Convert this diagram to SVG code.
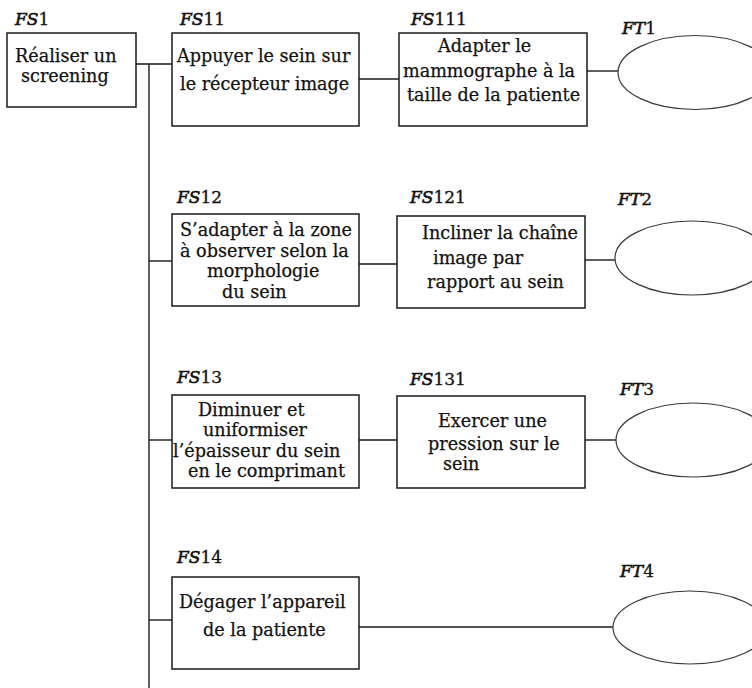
<svg xmlns="http://www.w3.org/2000/svg" width="752" height="688" viewBox="0 0 752 688">
<style>
.box{fill:#fff;stroke:#1a1a1a;stroke-width:1.5}
.ell{fill:#fff;stroke:#3a3a3a;stroke-width:1.2}
.con{stroke:#1a1a1a;stroke-width:1.4;fill:none}
.t{font-family:"DejaVu Serif","Liberation Serif",serif;font-size:17.6px;fill:#111;stroke:#111;stroke-width:0.25}
.lbl{font-family:"DejaVu Serif","Liberation Serif",serif;font-size:17px;fill:#111;stroke:#111;stroke-width:0.3}
.it{font-style:italic;stroke-width:0.6}
</style>
<rect width="752" height="688" fill="#fff"/>
<g id="connectors">
<line class="con" x1="136" y1="64" x2="172" y2="64"/>
<line class="con" x1="149" y1="64" x2="149" y2="688"/>
<line class="con" x1="149" y1="261" x2="172" y2="261"/>
<line class="con" x1="149" y1="440" x2="172" y2="440"/>
<line class="con" x1="149" y1="620" x2="172" y2="620"/>
<line class="con" x1="359" y1="79" x2="399" y2="79"/>
<line class="con" x1="587" y1="71" x2="618" y2="71"/>
<line class="con" x1="359" y1="264" x2="397" y2="264"/>
<line class="con" x1="585" y1="260" x2="615" y2="260"/>
<line class="con" x1="359" y1="440" x2="397" y2="440"/>
<line class="con" x1="585" y1="440" x2="616" y2="440"/>
<line class="con" x1="359" y1="627" x2="613" y2="627"/>
</g>
<g id="FS1">
<text class="lbl" x="15" y="25"><tspan class="it">FS</tspan>1</text>
<rect class="box" x="7" y="33" width="129" height="74"/>
<text class="t" x="15" y="62">Réaliser un</text>
<text class="t" x="21" y="82">screening</text>
</g>
<g id="FS11">
<text class="lbl" x="180" y="25"><tspan class="it">FS</tspan>11</text>
<rect class="box" x="172" y="33" width="187" height="93"/>
<text class="t" x="177" y="62">Appuyer le sein sur</text>
<text class="t" x="180" y="90">le récepteur image</text>
</g>
<g id="FS111">
<text class="lbl" x="411" y="25"><tspan class="it">FS</tspan>111</text>
<rect class="box" x="399" y="33" width="188" height="93"/>
<text class="t" x="438" y="52">Adapter le</text>
<text class="t" x="403" y="77">mammographe à la</text>
<text class="t" x="407" y="101">taille de la patiente</text>
</g>
<g id="FT1">
<text class="lbl" x="622" y="34"><tspan class="it">FT</tspan>1</text>
<ellipse class="ell" cx="695" cy="72.5" rx="77" ry="37"/>
</g>
<g id="FS12">
<text class="lbl" x="177" y="203"><tspan class="it">FS</tspan>12</text>
<rect class="box" x="172" y="214" width="187" height="92"/>
<text class="t" x="180" y="236">S’adapter à la zone</text>
<text class="t" x="180" y="257">à observer selon la</text>
<text class="t" x="207" y="277">morphologie</text>
<text class="t" x="222" y="298">du sein</text>
</g>
<g id="FS121">
<text class="lbl" x="410" y="203"><tspan class="it">FS</tspan>121</text>
<rect class="box" x="397" y="216" width="188" height="92"/>
<text class="t" x="422" y="239">Incliner la chaîne</text>
<text class="t" x="433" y="264">image par</text>
<text class="t" x="427" y="288">rapport au sein</text>
</g>
<g id="FT2">
<text class="lbl" x="618" y="205"><tspan class="it">FT</tspan>2</text>
<ellipse class="ell" cx="692" cy="258" rx="77" ry="37"/>
</g>
<g id="FS13">
<text class="lbl" x="177" y="383"><tspan class="it">FS</tspan>13</text>
<rect class="box" x="172" y="395" width="187" height="93"/>
<text class="t" x="198" y="416">Diminuer et</text>
<text class="t" x="203" y="436">uniformiser</text>
<text class="t" x="173" y="457">l’épaisseur du sein</text>
<text class="t" x="188" y="477">en le comprimant</text>
</g>
<g id="FS131">
<text class="lbl" x="410" y="385"><tspan class="it">FS</tspan>131</text>
<rect class="box" x="397" y="396" width="188" height="92"/>
<text class="t" x="438" y="427">Exercer une</text>
<text class="t" x="428" y="450">pression sur le</text>
<text class="t" x="443" y="470">sein</text>
</g>
<g id="FT3">
<text class="lbl" x="620" y="395"><tspan class="it">FT</tspan>3</text>
<ellipse class="ell" cx="693" cy="440" rx="77" ry="37"/>
</g>
<g id="FS14">
<text class="lbl" x="177" y="563"><tspan class="it">FS</tspan>14</text>
<rect class="box" x="172" y="577" width="187" height="92"/>
<text class="t" x="179" y="608">Dégager l’appareil</text>
<text class="t" x="203" y="636">de la patiente</text>
</g>
<g id="FT4">
<text class="lbl" x="620" y="577"><tspan class="it">FT</tspan>4</text>
<ellipse class="ell" cx="690" cy="627.5" rx="77" ry="36.5"/>
</g>
</svg>
